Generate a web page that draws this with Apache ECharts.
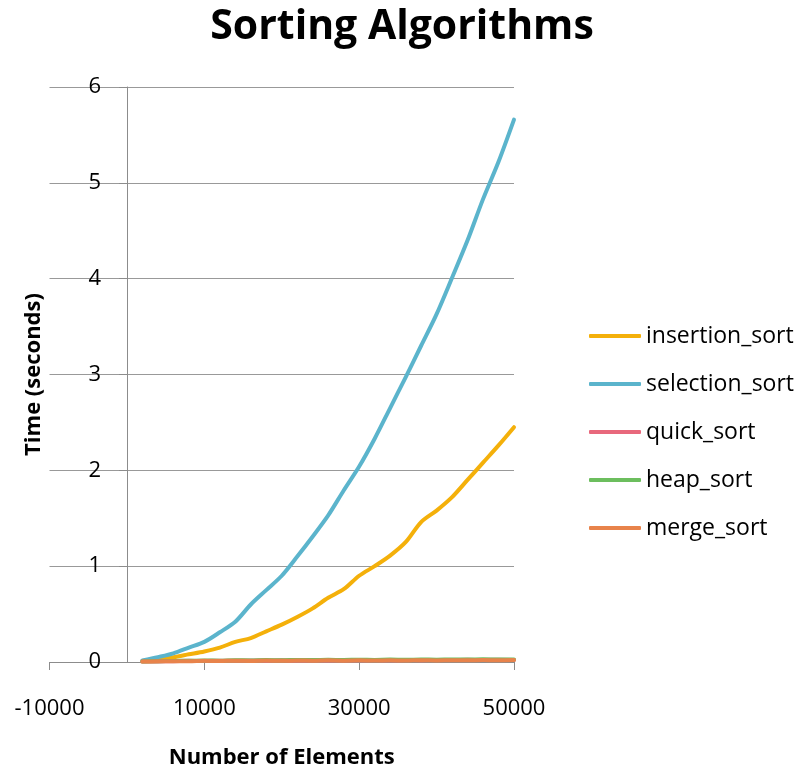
<!DOCTYPE html>
<html>
<head>
<meta charset="utf-8">
<script src="https://cdn.jsdelivr.net/npm/echarts@6/dist/echarts.min.js"></script>
<style>
html,body{margin:0;padding:0;background:#fff;}
#chart{width:804px;height:768px;}
</style>
</head>
<body>
<div id="chart"></div>
<script>
// Number of elements (x values)
var sizes = [2000,4000,6000,8000,10000,12000,14000,16000,18000,20000,22000,24000,26000,28000,30000,32000,34000,36000,38000,40000,42000,44000,46000,48000,50000];
// Times in seconds
var insertionSort = [0.01,0.03,0.05,0.08,0.11,0.15,0.21,0.25,0.32,0.39,0.47,0.56,0.67,0.76,0.90,1.00,1.11,1.25,1.46,1.58,1.72,1.90,2.08,2.26,2.45];
var selectionSort = [0.015,0.05,0.09,0.15,0.21,0.31,0.42,0.60,0.75,0.90,1.10,1.31,1.53,1.79,2.04,2.33,2.65,2.97,3.30,3.63,4.01,4.40,4.83,5.22,5.66];
var quickSort = [0.004,0.006,0.008,0.012,0.010,0.014,0.012,0.016,0.013,0.017,0.015,0.018,0.016,0.019,0.017,0.020,0.018,0.021,0.019,0.022,0.020,0.023,0.021,0.024,0.022];
var heapSort = [0.005,0.008,0.011,0.013,0.016,0.014,0.018,0.016,0.020,0.018,0.022,0.020,0.023,0.021,0.024,0.022,0.025,0.023,0.026,0.024,0.027,0.025,0.028,0.026,0.027];
var mergeSort = [0.004,0.007,0.009,0.008,0.012,0.010,0.014,0.011,0.015,0.012,0.016,0.013,0.017,0.014,0.017,0.015,0.018,0.015,0.019,0.016,0.019,0.017,0.020,0.018,0.020];
var seriesNames = ['insertion_sort','selection_sort','quick_sort','heap_sort','merge_sort'];
var seriesColors = ['#F4B00A','#5BB4CC','#E8687C','#6CBE5E','#E8834B'];
var yTicks = [0,1,2,3,4,5,6];
var xTickLabels = ['-10000','10000','30000','50000'];

function pairs(vals){ return sizes.map(function(s,i){ return [s, vals[i]]; }); }
var allVals = [insertionSort, selectionSort, quickSort, heapSort, mergeSort];

var FONT = '"Open Sans", "DejaVu Sans", sans-serif';
var chart = echarts.init(document.getElementById('chart'), null, {renderer:'canvas'});
chart.setOption({
  animation: false,
  backgroundColor: '#ffffff',
  title: {
    text: 'Sorting Algorithms',
    left: 'center',
    top: 2,
    textStyle: {fontFamily: FONT, fontWeight: 'bold', fontSize: 41, color: '#000'}
  },
  legend: {
    orient: 'vertical',
    left: 589,
    top: 324,
    padding: 0,
    itemWidth: 52,
    itemHeight: 4,
    itemGap: 24,
    icon: 'roundRect',
    data: seriesNames,
    textStyle: {fontFamily: FONT, fontSize: 23, color: '#000', lineHeight: 24}
  },
  grid: {left: 49.5, right: 290, top: 87, bottom: 106, containLabel: false, outerBoundsMode: 'none'},
  xAxis: {
    type: 'value',
    min: -10000,
    max: 50000,
    interval: 20000,
    name: 'Number of Elements',
    nameLocation: 'middle',
    nameGap: 85,
    nameTextStyle: {fontFamily: FONT, fontWeight: 'bold', fontSize: 22, color: '#000'},
    axisLine: {show: true, onZero: false, lineStyle: {color: '#8c8c8c', width: 1}},
    axisTick: {show: true, length: 8, lineStyle: {color: '#8c8c8c'}},
    splitLine: {show: false},
    axisLabel: {
      margin: 36,
      fontFamily: FONT, fontSize: 22, color: '#000',
      formatter: function(v){ var s = String(v); return xTickLabels.indexOf(s) >= 0 ? s : ''; }
    }
  },
  yAxis: {
    type: 'value',
    min: 0,
    max: 6,
    interval: 1,
    offset: -77.5,
    name: 'Time (seconds)',
    nameLocation: 'middle',
    nameGap: 82,
    nameRotate: 90,
    nameTextStyle: {fontFamily: FONT, fontWeight: 'bold', fontSize: 22, color: '#000'},
    axisLine: {show: true, onZero: false, lineStyle: {color: '#8c8c8c', width: 1}},
    axisTick: {show: true, length: 8, lineStyle: {color: '#8c8c8c'}},
    splitLine: {show: true, lineStyle: {color: '#999999', width: 1}},
    axisLabel: {
      margin: 26,
      fontFamily: FONT, fontSize: 22, color: '#000',
      formatter: function(v){ return yTicks.indexOf(v) >= 0 ? String(v) : ''; }
    }
  },
  series: seriesNames.map(function(n, i){
    return {
      name: n,
      type: 'line',
      data: pairs(allVals[i]),
      smooth: 0.3,
      showSymbol: false,
      symbol: 'none',
      color: seriesColors[i],
      lineStyle: {width: 4, color: seriesColors[i], cap: 'round', join: 'round'},
      itemStyle: {color: seriesColors[i]},
      z: 2 + i
    };
  })
});
</script>
</body>
</html>
